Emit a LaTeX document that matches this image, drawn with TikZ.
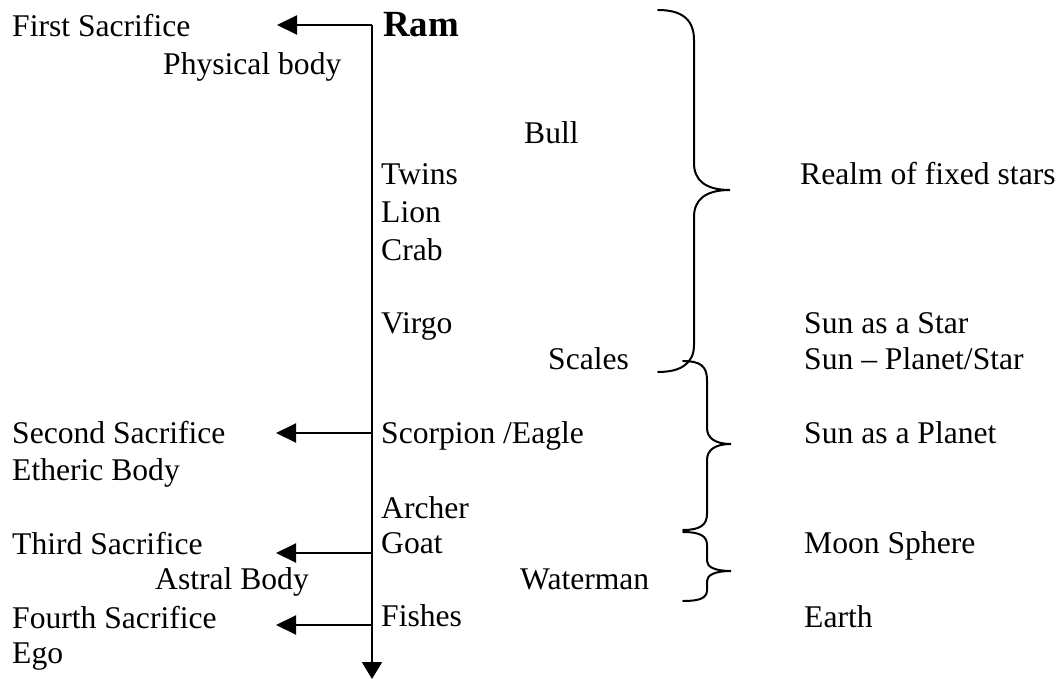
\documentclass[tikz,border=0pt]{standalone}
\usepackage{fontspec}
\setmainfont{Liberation Serif}
\usetikzlibrary{arrows.meta}
\begin{document}
\begin{tikzpicture}[x=1pt,y=-1pt,
  lbl/.style={anchor=base west,inner sep=0pt,font=\fontsize{31.6}{36}\selectfont},
  ramlbl/.style={anchor=base west,inner sep=0pt,font=\fontsize{36.9}{42}\selectfont\bfseries},
  axis/.style={line width=2pt},
  sacarrow/.style={line width=2pt,-{Triangle[length=20pt,width=19pt]}},
  brace/.style={line width=2pt,line cap=round}]
\useasboundingbox (0,0) rectangle (1063,679);
% main axis
\coordinate (top) at (372,25);
\coordinate (bot) at (372,679);
\coordinate (t1) at (277,25);
\coordinate (j2) at (372,433);
\coordinate (t2) at (276,433);
\coordinate (j3) at (372,553);
\coordinate (t3) at (276,553);
\coordinate (j4) at (372,625);
\coordinate (t4) at (276,625);
\draw[axis,-{Triangle[length=17pt,width=20pt]}] (top) -- (bot);
\draw[sacarrow] (top) -- (t1);
\draw[sacarrow] (j2) -- (t2);
\draw[sacarrow] (j3) -- (t3);
\draw[sacarrow] (j4) -- (t4);
% left texts
\node[lbl] (s1) at (12,37) {First Sacrifice};
\node[lbl] (pb) at (163,75) {Physical body};
\node[lbl] (s2) at (12,443) {Second Sacrifice};
\node[lbl] (eb) at (12,480) {Etheric Body};
\node[lbl] (s3) at (12,554) {Third Sacrifice};
\node[lbl] (ab) at (155,589) {Astral Body};
\node[lbl] (s4) at (12,628) {Fourth Sacrifice};
\node[lbl] (ego) at (12,663) {Ego};
% zodiac
\node[ramlbl] (ram) at (383,37) {Ram};
\node[lbl] (bull) at (524,144) {Bull};
\node[lbl] (twins) at (381,185) {Twins};
\node[lbl] (lion) at (381,223) {Lion};
\node[lbl] (crab) at (381,260) {Crab};
\node[lbl] (virgo) at (381,333) {Virgo};
\node[lbl] (scales) at (548,369) {Scales};
\node[lbl] (scorp) at (381,443) {Scorpion /Eagle};
\node[lbl] (archer) at (381,518) {Archer};
\node[lbl] (goat) at (381,553) {Goat};
\node[lbl] (water) at (520,589) {Waterman};
\node[lbl] (fishes) at (381,626) {Fishes};
% right texts
\node[lbl] (realm) at (800,185) {Realm of fixed stars};
\node[lbl] (sunstar) at (804,333) {Sun as a Star};
\node[lbl] (sunps) at (804,369) {Sun – Planet/Star};
\node[lbl] (sunpl) at (804,443) {Sun as a Planet};
\node[lbl] (moon) at (804,553) {Moon Sphere};
\node[lbl] (earth) at (804,627) {Earth};
% braces
\draw[brace] (658,10) .. controls (680,10) and (694,18) .. (694,40) -- (694,163)
  .. controls (694,180) and (705,190) .. (730,190)
  .. controls (705,190) and (694,200) .. (694,217) -- (694,345)
  .. controls (694,364) and (680,372) .. (658,372);
\draw[brace] (683,361) .. controls (700,361) and (707,366) .. (707,380) -- (707,428)
  .. controls (707,438) and (715,444) .. (731,444)
  .. controls (715,444) and (707,450) .. (707,460) -- (707,514)
  .. controls (707,525) and (700,530) .. (683,530);
\draw[brace] (683,532) .. controls (700,532) and (707,536) .. (707,545) -- (707,561)
  .. controls (707,567) and (715,571) .. (731,571)
  .. controls (715,571) and (707,575) .. (707,581) -- (707,590)
  .. controls (707,598) and (700,601) .. (683,601);
\end{tikzpicture}
\end{document}
